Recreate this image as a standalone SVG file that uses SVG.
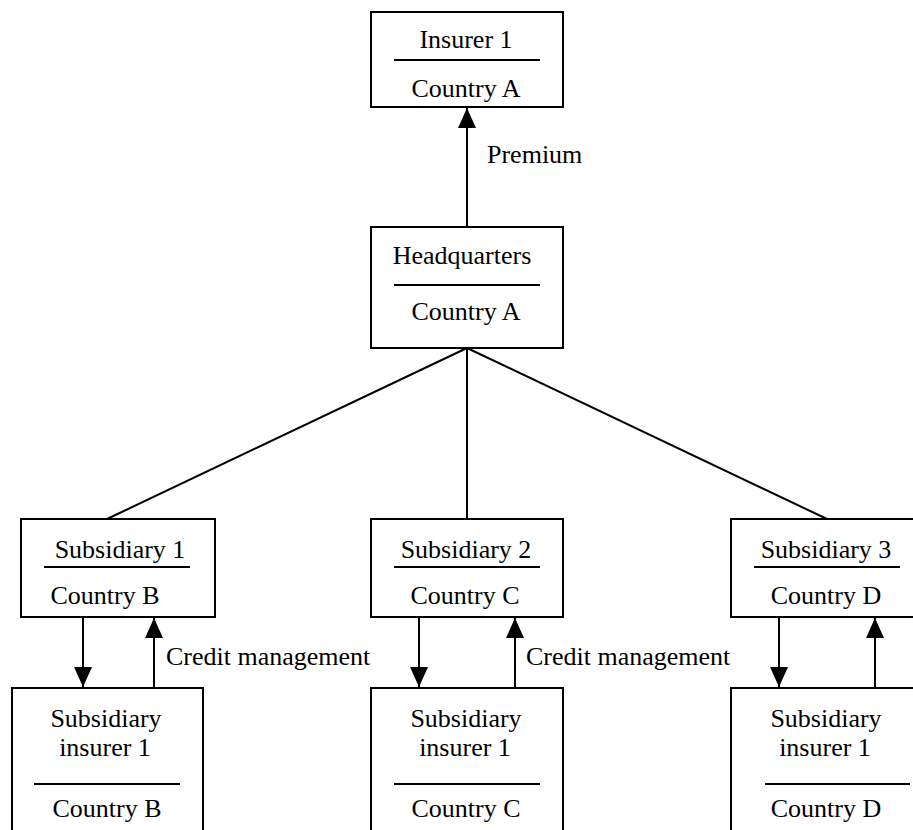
<svg xmlns="http://www.w3.org/2000/svg" width="913" height="830" viewBox="0 0 913 830">
<style>
.box{fill:#fff;stroke:#000;stroke-width:2}
.div{stroke:#000;stroke-width:2}
.t{font-family:"Liberation Serif","Times New Roman",serif;font-size:26px;fill:#000;text-anchor:middle}
.tl{font-family:"Liberation Serif","Times New Roman",serif;font-size:26px;fill:#000}
.c{stroke:#000;stroke-width:2;fill:none}
.a{stroke:#000;stroke-width:2;fill:none;marker-end:url(#arr)}
</style>
<defs>
<marker id="arr" markerUnits="userSpaceOnUse" markerWidth="20" markerHeight="18" refX="20" refY="9" orient="auto" viewBox="0 0 20 18">
<path d="M0,0 L20,9 L0,18 z" fill="#000"/>
</marker>
</defs>
<g id="connectors">
<line class="a" x1="467" y1="227" x2="467" y2="108"/>
<line class="c" x1="467" y1="348" x2="107" y2="519"/>
<line class="c" x1="467" y1="348" x2="467" y2="519"/>
<line class="c" x1="467" y1="348" x2="827" y2="519"/>
<line class="a" x1="83" y1="617" x2="83" y2="687"/>
<line class="a" x1="154" y1="688" x2="154" y2="618"/>
<line class="a" x1="419" y1="617" x2="419" y2="687"/>
<line class="a" x1="515" y1="688" x2="515" y2="618"/>
<line class="a" x1="779" y1="617" x2="779" y2="687"/>
<line class="a" x1="875" y1="688" x2="875" y2="618"/>
<text class="tl" x="487" y="163">Premium</text>
<text class="tl" x="166" y="665">Credit management</text>
<text class="tl" x="526" y="665">Credit management</text>
</g>
<g id="insurer1">
<rect class="box" x="371" y="12" width="192" height="95"/>
<line class="div" x1="394" y1="60" x2="540" y2="60"/>
<text class="t" x="466" y="48">Insurer 1</text>
<text class="t" x="466" y="97">Country A</text>
</g>
<g id="headquarters">
<rect class="box" x="371" y="227" width="192" height="121"/>
<line class="div" x1="394" y1="285" x2="540" y2="285"/>
<text class="t" x="462" y="264">Headquarters</text>
<text class="t" x="466" y="320">Country A</text>
</g>
<g id="subsidiary1">
<rect class="box" x="21" y="519" width="194" height="98"/>
<line class="div" x1="44" y1="567" x2="190" y2="567"/>
<text class="t" x="120" y="558">Subsidiary 1</text>
<text class="t" x="105" y="604">Country B</text>
</g>
<g id="subsidiary2">
<rect class="box" x="371" y="519" width="192" height="98"/>
<line class="div" x1="394" y1="567" x2="540" y2="567"/>
<text class="t" x="466" y="558">Subsidiary 2</text>
<text class="t" x="465" y="604">Country C</text>
</g>
<g id="subsidiary3">
<rect class="box" x="731" y="519" width="192" height="98"/>
<line class="div" x1="754" y1="567" x2="900" y2="567"/>
<text class="t" x="826" y="558">Subsidiary 3</text>
<text class="t" x="826" y="604">Country D</text>
</g>
<g id="subinsurer1">
<rect class="box" x="12" y="688" width="191" height="160"/>
<line class="div" x1="34" y1="784" x2="180" y2="784"/>
<text class="t" x="106" y="727">Subsidiary</text>
<text class="t" x="105" y="756">insurer 1</text>
<text class="t" x="107" y="817">Country B</text>
</g>
<g id="subinsurer2">
<rect class="box" x="371" y="688" width="192" height="160"/>
<line class="div" x1="394" y1="784" x2="540" y2="784"/>
<text class="t" x="466" y="727">Subsidiary</text>
<text class="t" x="465" y="756">insurer 1</text>
<text class="t" x="466" y="817">Country C</text>
</g>
<g id="subinsurer3">
<rect class="box" x="731" y="688" width="192" height="160"/>
<line class="div" x1="765" y1="784" x2="910" y2="784"/>
<text class="t" x="826" y="727">Subsidiary</text>
<text class="t" x="825" y="756">insurer 1</text>
<text class="t" x="826" y="817">Country D</text>
</g>
</svg>
